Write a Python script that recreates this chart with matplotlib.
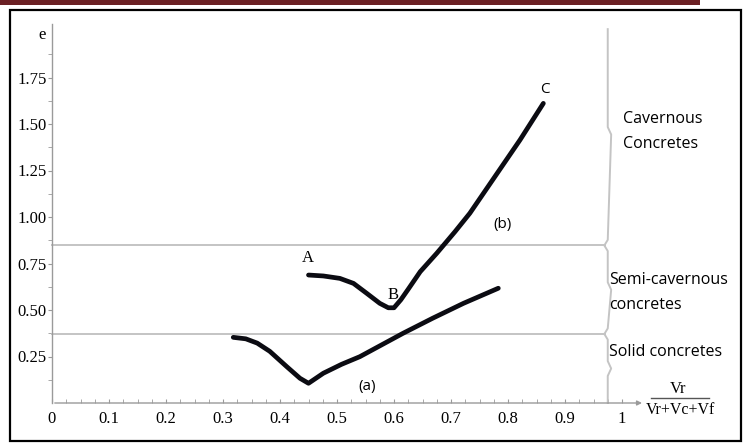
import matplotlib
matplotlib.use("Agg")
import matplotlib.pyplot as plt
from matplotlib.patches import Rectangle
import numpy as np

# Curve (a): solid -> semi-cavernous branch
a_x = [0.318, 0.340, 0.360, 0.382, 0.412, 0.435, 0.450, 0.476, 0.508, 0.540, 0.578, 0.616, 0.668, 0.722, 0.783]
a_y = [0.353, 0.345, 0.322, 0.278, 0.195, 0.133, 0.106, 0.160, 0.208, 0.249, 0.312, 0.375, 0.456, 0.536, 0.617]

# Curve (b): A -> B -> C
b_x = [0.450, 0.476, 0.505, 0.529, 0.552, 0.575, 0.590, 0.600, 0.612, 0.625, 0.646, 0.675, 0.707, 0.733, 0.777, 0.821, 0.862]
b_y = [0.688, 0.683, 0.670, 0.643, 0.590, 0.536, 0.512, 0.512, 0.555, 0.612, 0.706, 0.805, 0.921, 1.020, 1.217, 1.414, 1.611]

# Region boundaries on the e axis
bounds = [0.371, 0.847]
region_labels = ["Solid concretes", "Semi-cavernous\nconcretes", "Cavernous\nConcretes"]

x_ticks = [0, 0.1, 0.2, 0.3, 0.4, 0.5, 0.6, 0.7, 0.8, 0.9, 1.0]
x_ticklabels = ["0", "0.1", "0.2", "0.3", "0.4", "0.5", "0.6", "0.7", "0.8", "0.9", "1"]
y_ticks = [0.25, 0.50, 0.75, 1.00, 1.25, 1.50, 1.75]
y_ticklabels = ["0.25", "0.50", "0.75", "1.00", "1.25", "1.50", "1.75"]

W, H = 745, 447
fig = plt.figure(figsize=(W / 100, H / 100), dpi=100)

# page decoration: dark red rule and black frame
fig.patches.append(Rectangle((0, 1 - 5 / H), 700 / W, 5 / H, transform=fig.transFigure,
                             facecolor="#6b2024", edgecolor="none"))
fig.patches.append(Rectangle((10 / W, 6 / H), 731 / W, 431 / H, transform=fig.transFigure,
                             facecolor="none", edgecolor="black", linewidth=1.6))

xmax, ymax = 1.035, 2.04
ax = fig.add_axes([52 / W, 44 / H, xmax * 570 / W, ymax * 186 / H])
ax.set_xlim(0, xmax)
ax.set_ylim(0, ymax)
ax.patch.set_alpha(0)

axis_grey = "#9a9a9a"
for s in ["top", "right", "bottom"]:
    ax.spines[s].set_visible(False)
ax.spines["left"].set_color(axis_grey)
ax.spines["left"].set_linewidth(1.0)

ax.annotate("", xy=(1.04, 0), xytext=(0, 0),
            arrowprops=dict(arrowstyle="-|>", color=axis_grey, lw=1.0, mutation_scale=7),
            annotation_clip=False)

serif = "Liberation Serif"
sans = "Open Sans"

ax.set_xticks(x_ticks)
ax.set_xticklabels(x_ticklabels, family=serif, fontsize=12)
ax.set_xticks(np.arange(0, 1.0001, 0.025), minor=True)
ax.set_yticks(y_ticks)
ax.set_yticklabels(y_ticklabels, family=serif, fontsize=12)
ax.set_yticks(np.arange(0.125, 2.0, 0.125), minor=True)
ax.tick_params(axis="x", which="both", direction="in", length=3, color=axis_grey, pad=6)
ax.tick_params(axis="y", which="both", direction="out", length=3, color=axis_grey, pad=1)

# region boundaries
brace_x = 0.975
for b in bounds:
    ax.plot([0, brace_x - 0.004], [b, b], color="#c4c4c4", lw=1.4, clip_on=False)

# right-hand brace with small points
edges = [0, bounds[0], bounds[1], ymax]
bx, by = [], []
k = 0.006
for i in range(3):
    lo, hi = edges[i], edges[i + 1]
    mid = (lo + hi) / 2
    if i == 0:
        bx += [brace_x, brace_x]; by += [lo, mid - 0.04]
    bx += [brace_x + k, brace_x, brace_x]
    by += [mid, mid + 0.04, hi - 0.03]
    if i < 2:
        bx += [brace_x - k, brace_x]
        by += [hi, hi + 0.03]
ax.plot(bx, by, color="#c4c4c4", lw=1.4, clip_on=False)

# curves
curve_kw = dict(color="#0b0b12", lw=3.4, solid_capstyle="round", solid_joinstyle="round", clip_on=False)
ax.plot(a_x, a_y, **curve_kw)
ax.plot(b_x, b_y, **curve_kw)

# curve annotations
ax.text(0.448, 0.778, "A", family=serif, fontsize=12, ha="center", va="center")
ax.text(0.599, 0.581, "B", family=serif, fontsize=12, ha="center", va="center")
ax.text(0.865, 1.683, "C", family=sans, fontsize=11, ha="center", va="center")
ax.text(0.790, 0.957, "(b)", family=sans, fontsize=11, ha="center", va="center")
ax.text(0.553, 0.090, "(a)", family=sans, fontsize=11, ha="center", va="center")

# axis labels
ax.text(-0.0175, 1.978, "e", family=serif, fontsize=12, ha="center", va="center", clip_on=False)
ax.text(1.098, 0.075, "Vr", family=serif, fontsize=12, ha="center", va="center", clip_on=False)
ax.plot([1.051, 1.153], [0.025, 0.025], color="#555555", lw=1.0, clip_on=False)
ax.text(1.102, -0.035, "Vr+Vc+Vf", family=serif, fontsize=11.5, ha="center", va="center", clip_on=False)

# region labels
ax.text(1.002, 1.46, region_labels[2], family=sans, fontsize=11.5, ha="left", va="center",
        linespacing=1.75, clip_on=False)
ax.text(0.977, 0.594, region_labels[1], family=sans, fontsize=11.5, ha="left", va="center",
        linespacing=1.75, clip_on=False)
ax.text(0.977, 0.274, region_labels[0], family=sans, fontsize=11.5, ha="left", va="center",
        clip_on=False)

fig.savefig("out.png", dpi=100)
